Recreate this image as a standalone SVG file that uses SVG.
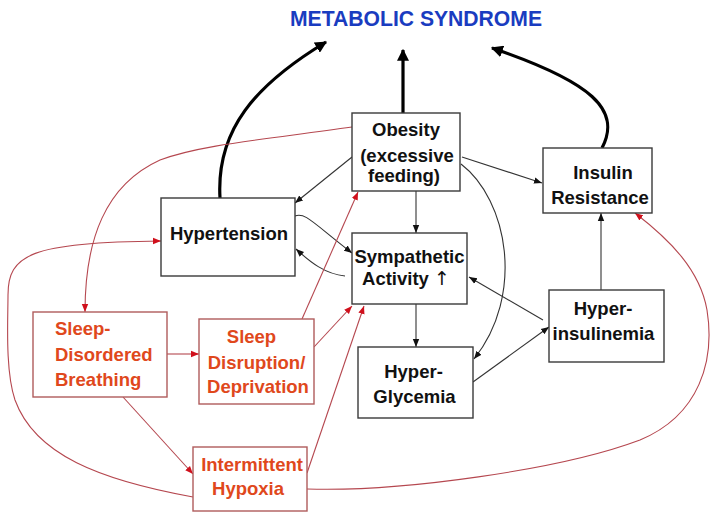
<svg xmlns="http://www.w3.org/2000/svg" width="721" height="520" viewBox="0 0 721 520">
<style>
.bk{fill:#fff;stroke:#3a3a3a;stroke-width:1.4}
.rb{fill:#fff;stroke:#b05c5c;stroke-width:1.4}
.t{font-family:"Liberation Sans",Arial,sans-serif;font-weight:bold;font-size:18.5px;fill:#111}
.rt{font-family:"Liberation Sans",Arial,sans-serif;font-weight:bold;font-size:18.5px;fill:#e0481c}
.c{stroke:#333;stroke-width:1.1;fill:none;marker-end:url(#ab)}
.r{stroke:#b5474f;stroke-width:1.1;fill:none;marker-end:url(#ar)}
.th{stroke:#000;stroke-width:3.2;fill:none;marker-end:url(#at)}
</style>
<defs>
<marker id="ab" viewBox="0 0 10 10" refX="10" refY="5" markerWidth="8" markerHeight="8" markerUnits="userSpaceOnUse" orient="auto"><path d="M0,1 L10,5 L0,9 z" fill="#111"/></marker>
<marker id="ar" viewBox="0 0 10 10" refX="10" refY="5" markerWidth="8" markerHeight="8" markerUnits="userSpaceOnUse" orient="auto"><path d="M0,1 L10,5 L0,9 z" fill="#d0101c"/></marker>
<marker id="at" viewBox="0 0 10 10" refX="9" refY="5" markerWidth="12" markerHeight="12" markerUnits="userSpaceOnUse" orient="auto"><path d="M0,0 L10,5 L0,10 z" fill="#000"/></marker>
</defs>
<rect width="721" height="520" fill="#fff"/>
<text x="416" y="26" text-anchor="middle" font-family="Liberation Sans,Arial,sans-serif" font-weight="bold" font-size="22" fill="#1a3cc0" textLength="252" lengthAdjust="spacingAndGlyphs">METABOLIC SYNDROME</text>

<g id="connectors">
<path class="th" d="M220,198 C216,130 255,85 326,42"/>
<path class="th" d="M403,113 L403,50"/>
<path class="th" d="M602,148 C622,110 592,82 492,48"/>
<path class="c" d="M352,157 L295,203"/>
<path class="c" d="M462,157 L542,183"/>
<path class="c" d="M416,191 L416,233"/>
<path class="c" d="M416,304 L416,347"/>
<path class="c" d="M461,164 C508,200 525,295 474,359"/>
<path class="c" d="M295,216 C305,212 312,222 352,253"/>
<path class="c" d="M345,276 C325,274 310,262 296,249"/>
<path class="c" d="M601,290 L601,213"/>
<path class="c" d="M543,320 L469,277"/>
<path class="c" d="M473,382 L549,327"/>
<path class="r" d="M352,127 C260,140 200,145 160,160 C105,185 85,240 85,312"/>
<path class="r" d="M193,497 C100,480 35,455 15,400 C5,370 8,320 8,295 C8,255 30,242 161,241"/>
<path class="r" d="M167,354 L199,354"/>
<path class="r" d="M123,397 L193,474"/>
<path class="r" d="M302,319 L358,192"/>
<path class="r" d="M314,347 L352,306"/>
<path class="r" d="M307,473 L364,306"/>
<path class="r" d="M307,489 C400,492 560,470 640,440 C700,415 715,360 707,310 C700,270 670,240 635,213"/>
</g>

<g id="obesity">
<rect class="bk" x="352" y="113" width="108" height="78"/>
<text class="t" x="406" y="136" text-anchor="middle">Obesity</text>
<text class="t" x="407" y="162" text-anchor="middle" font-size="16.8">(excessive</text>
<text class="t" x="404" y="182" text-anchor="middle" font-size="16.8">feeding)</text>
</g>
<g id="insulin-resistance">
<rect class="bk" x="543" y="148" width="109" height="65"/>
<text class="t" x="603" y="179" text-anchor="middle">Insulin</text>
<text class="t" x="600" y="204" text-anchor="middle">Resistance</text>
</g>
<g id="hypertension">
<rect class="bk" x="161" y="198" width="134" height="78"/>
<text class="t" x="229" y="240" text-anchor="middle">Hypertension</text>
</g>
<g id="sympathetic">
<rect class="bk" x="352" y="233" width="115" height="71"/>
<text class="t" x="409.5" y="263" text-anchor="middle" font-size="16.5">Sympathetic</text>
<text class="t" x="406" y="285" text-anchor="middle" font-size="16.5">Activity <tspan font-family="DejaVu Sans,sans-serif" font-weight="normal" font-size="19">↑</tspan></text>
</g>
<g id="hyperinsulinemia">
<rect class="bk" x="549" y="290" width="115" height="72"/>
<text class="t" x="603" y="315" text-anchor="middle">Hyper-</text>
<text class="t" x="603.5" y="340" text-anchor="middle">insulinemia</text>
</g>
<g id="hyperglycemia">
<rect class="bk" x="358" y="347" width="115" height="71"/>
<text class="t" x="413.5" y="378" text-anchor="middle">Hyper-</text>
<text class="t" x="414.5" y="403" text-anchor="middle">Glycemia</text>
</g>
<g id="sdb">
<rect class="rb" x="33" y="312" width="134" height="85"/>
<text class="rt" x="55" y="335">Sleep-</text>
<text class="rt" x="55" y="361">Disordered</text>
<text class="rt" x="55" y="386">Breathing</text>
</g>
<g id="sleep-disruption">
<rect class="rb" x="199" y="319" width="115" height="85"/>
<text class="rt" x="251.5" y="343" text-anchor="middle">Sleep</text>
<text class="rt" x="256.5" y="369" text-anchor="middle">Disruption/</text>
<text class="rt" x="258" y="393" text-anchor="middle">Deprivation</text>
</g>
<g id="intermittent-hypoxia">
<rect class="rb" x="193" y="447" width="114" height="64"/>
<text class="rt" x="252" y="471" text-anchor="middle">Intermittent</text>
<text class="rt" x="248" y="495" text-anchor="middle">Hypoxia</text>
</g>
</svg>
